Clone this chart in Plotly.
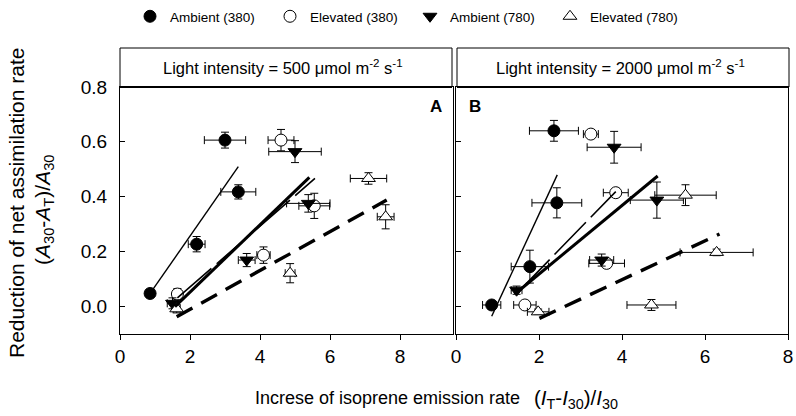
import plotly.graph_objects as go

W, H = 796, 416
FONT = "Arial, Liberation Sans, sans-serif"

# ---- Panel A: light intensity 500 umol m-2 s-1 ----
a_amb380_x = [0.86, 2.19, 3.38, 3.00]
a_amb380_y = [0.046, 0.226, 0.417, 0.606]
a_amb380_xerr = [0.10, 0.24, 0.50, 0.59]
a_amb380_yerr = [0.015, 0.028, 0.026, 0.029]

a_el380_x = [1.64, 4.10, 5.55, 4.60]
a_el380_y = [0.044, 0.186, 0.366, 0.606]
a_el380_xerr = [0.12, 0.19, 0.44, 0.37]
a_el380_yerr = [0.020, 0.030, 0.046, 0.039]

a_amb780_x = [1.50, 3.62, 5.38, 5.00]
a_amb780_y = [0.010, 0.168, 0.375, 0.564]
a_amb780_xerr = [0.15, 0.24, 0.62, 0.75]
a_amb780_yerr = [0.020, 0.024, 0.032, 0.040]

a_el780_x = [1.62, 4.86, 7.10, 7.59]
a_el780_y = [-0.010, 0.120, 0.466, 0.326]
a_el780_xerr = [0.10, 0.14, 0.52, 0.24]
a_el780_yerr = [0.015, 0.035, 0.021, 0.044]

# regression lines, panel A (end points)
a_fit_amb380_x = [0.86, 3.38]
a_fit_amb380_y = [0.046, 0.509]
a_fit_el380_x = [1.64, 5.57]
a_fit_el380_y = [0.030, 0.466]
a_fit_amb780_x = [1.57, 5.41]
a_fit_amb780_y = [-0.002, 0.470]
a_fit_el780_x = [1.62, 7.62]
a_fit_el780_y = [-0.039, 0.387]

# ---- Panel B: light intensity 2000 umol m-2 s-1 ----
b_amb380_x = [0.86, 1.78, 2.43, 2.36]
b_amb380_y = [0.004, 0.144, 0.377, 0.640]
b_amb380_xerr = [0.22, 0.45, 0.60, 0.59]
b_amb380_yerr = [0.010, 0.060, 0.055, 0.038]

b_el380_x = [1.66, 3.63, 3.85, 3.25]
b_el380_y = [0.004, 0.156, 0.414, 0.628]
b_el380_xerr = [0.27, 0.43, 0.30, 0.18]
b_el380_yerr = [0.010, 0.015, 0.015, 0.010]

b_amb780_x = [1.46, 3.51, 4.84, 3.81]
b_amb780_y = [0.058, 0.168, 0.387, 0.580]
b_amb780_xerr = [0.13, 0.29, 0.64, 0.65]
b_amb780_yerr = [0.015, 0.022, 0.066, 0.058]

b_el780_x = [1.98, 4.71, 6.28, 5.53]
b_el780_y = [-0.021, 0.004, 0.196, 0.405]
b_el780_xerr = [0.26, 0.59, 0.88, 0.74]
b_el780_yerr = [0.010, 0.020, 0.012, 0.038]

b_fit_amb380_x = [0.86, 2.44]
b_fit_amb380_y = [-0.037, 0.479]
b_fit_el380_x = [1.50, 3.85]
b_fit_el380_y = [0.052, 0.418]
b_fit_amb780_x = [1.42, 4.86]
b_fit_amb780_y = [0.044, 0.475]
b_fit_el780_x = [2.01, 6.35]
b_fit_el780_y = [-0.045, 0.263]

series_names = ["Ambient (380)", "Elevated (380)", "Ambient (780)", "Elevated (780)"]
x_ticks = [0, 2, 4, 6, 8]
y_ticks = [0.0, 0.2, 0.4, 0.6, 0.8]

# marker styles per series
styles = [
    dict(symbol="circle", color="black", line=dict(color="black", width=1), size=12),
    dict(symbol="circle", color="white", line=dict(color="black", width=1), size=12),
    dict(symbol="triangle-down", color="black", line=dict(color="black", width=1), size=12),
    dict(symbol="triangle-up", color="white", line=dict(color="black", width=1), size=12),
]
# regression line styles per series
fit_styles = [
    dict(color="black", width=1.4),
    dict(color="black", width=1.6, dash="45px,7px"),
    dict(color="black", width=3.0),
    dict(color="black", width=3.4, dash="18px,10px"),
]

panels = [
    dict(xa="x", ya="y",
         pts=[(a_amb380_x, a_amb380_y, a_amb380_xerr, a_amb380_yerr),
              (a_el380_x, a_el380_y, a_el380_xerr, a_el380_yerr),
              (a_amb780_x, a_amb780_y, a_amb780_xerr, a_amb780_yerr),
              (a_el780_x, a_el780_y, a_el780_xerr, a_el780_yerr)],
         fits=[(a_fit_amb380_x, a_fit_amb380_y), (a_fit_el380_x, a_fit_el380_y),
               (a_fit_amb780_x, a_fit_amb780_y), (a_fit_el780_x, a_fit_el780_y)]),
    dict(xa="x2", ya="y2",
         pts=[(b_amb380_x, b_amb380_y, b_amb380_xerr, b_amb380_yerr),
              (b_el380_x, b_el380_y, b_el380_xerr, b_el380_yerr),
              (b_amb780_x, b_amb780_y, b_amb780_xerr, b_amb780_yerr),
              (b_el780_x, b_el780_y, b_el780_xerr, b_el780_yerr)],
         fits=[(b_fit_amb380_x, b_fit_amb380_y), (b_fit_el380_x, b_fit_el380_y),
               (b_fit_amb780_x, b_fit_amb780_y), (b_fit_el780_x, b_fit_el780_y)]),
]

fig = go.Figure()
for pi, p in enumerate(panels):
    for i, (x, y, xe, ye) in enumerate(p["pts"]):
        fig.add_trace(go.Scatter(
            x=x, y=y, mode="markers", xaxis=p["xa"], yaxis=p["ya"],
            name=series_names[i], legendgroup=series_names[i], showlegend=(pi == 0),
            marker=styles[i],
            error_x=dict(type="data", array=xe, color="black", thickness=1, width=4),
            error_y=dict(type="data", array=ye, color="black", thickness=1, width=4),
        ))
    for i, (fx, fy) in enumerate(p["fits"]):
        fig.add_trace(go.Scatter(
            x=fx, y=fy, mode="lines", xaxis=p["xa"], yaxis=p["ya"],
            line=fit_styles[i], showlegend=False, legendgroup=series_names[i],
            hoverinfo="skip",
        ))


def px(v):
    return v / W


def py(v):
    return 1 - v / H


xA0, xA1 = 120, 453
xB0, xB1 = 456, 788
yTop, yBot = 87, 334

axis_common = dict(showline=True, linecolor="black", linewidth=1.3, mirror=True,
                   showgrid=False, zeroline=False, automargin=False,
                   tickfont=dict(family=FONT, size=19, color="black"))

fig.update_layout(
    template="none",
    width=W, height=H, margin=dict(l=0, r=0, t=0, b=0, pad=0, autoexpand=False),
    paper_bgcolor="white", plot_bgcolor="white",
    font=dict(family=FONT, color="black"),
    xaxis=dict(domain=[px(xA0), px(xA1)], range=[0, (xA1 - xA0) / 35.0],
               tickvals=x_ticks, ticks="outside", ticklen=5, tickcolor="black",
               anchor="y", **axis_common),
    yaxis=dict(domain=[py(yBot), py(yTop)], range=[-0.102, 0.8],
               tickvals=y_ticks, tickformat=".1f", ticks="inside", ticklen=5,
               tickcolor="black", anchor="x", ticklabelstandoff=8, **axis_common),
    xaxis2=dict(domain=[px(xB0), px(xB1)], range=[0, 8],
                tickvals=x_ticks, ticks="outside", ticklen=5, tickcolor="black",
                anchor="y2", **axis_common),
    yaxis2=dict(domain=[py(yBot), py(yTop)], range=[-0.102, 0.8],
                tickvals=y_ticks, showticklabels=False, ticks="inside", ticklen=5,
                tickcolor="black", anchor="x2", **axis_common),
    legend=dict(orientation="h", x=px(130), xanchor="left", y=py(1), yanchor="top",
                entrywidth=95, entrywidthmode="pixels",
                font=dict(family=FONT, size=13.5, color="black"),
                bgcolor="rgba(0,0,0,0)", itemclick=False, itemdoubleclick=False),
    showlegend=True,
)

# header strips above each panel
headers = [
    (xA0, 452, "Light intensity = 500 \u03bcmol m<sup>-2</sup> s<sup>-1</sup>"),
    (457, 789, "Light intensity = 2000 \u03bcmol m<sup>-2</sup> s<sup>-1</sup>"),
]
for x0, x1, txt in headers:
    fig.add_shape(type="rect", xref="paper", yref="paper",
                  x0=px(x0), x1=px(x1), y0=py(yTop), y1=py(48),
                  line=dict(color="black", width=1), fillcolor="white", layer="below")
    fig.add_shape(type="line", xref="paper", yref="paper",
                  x0=px(x0), x1=px(x1), y0=py(yTop), y1=py(yTop),
                  line=dict(color="black", width=2.2))
    fig.add_annotation(xref="paper", yref="paper", x=px((x0 + x1) / 2 - 3), y=py(67),
                       text=txt, showarrow=False, xanchor="center", yanchor="middle",
                       font=dict(family=FONT, size=16.5, color="black"))

# panel letters
fig.add_annotation(xref="paper", yref="paper", x=px(444), y=py(106), text="<b>A</b>",
                   showarrow=False, xanchor="right", yanchor="middle",
                   font=dict(family=FONT, size=17, color="black"))
fig.add_annotation(xref="paper", yref="paper", x=px(467), y=py(106), text="<b>B</b>",
                   showarrow=False, xanchor="left", yanchor="middle",
                   font=dict(family=FONT, size=17, color="black"))

# axis titles
fig.add_annotation(xref="paper", yref="paper", x=px(17), y=py(203),
                   text="Reduction of net assimilation rate", textangle=-90,
                   showarrow=False, xanchor="center", yanchor="middle",
                   font=dict(family=FONT, size=21, color="black"))
fig.add_annotation(xref="paper", yref="paper", x=px(44), y=py(210),
                   text="(<i>A</i><sub>30</sub>-<i>A</i><sub>T</sub>)/<i>A</i><sub>30</sub>",
                   textangle=-90, showarrow=False, xanchor="center", yanchor="middle",
                   font=dict(family=FONT, size=21, color="black"))
fig.add_annotation(xref="paper", yref="paper", x=px(387), y=py(398),
                   text="Increse of isoprene emission rate",
                   showarrow=False, xanchor="center", yanchor="middle",
                   font=dict(family=FONT, size=18, color="black"))
fig.add_annotation(xref="paper", yref="paper", x=px(532), y=py(399),
                   text="(<i>I</i><sub>T</sub>-<i>I</i><sub>30</sub>)/<i>I</i><sub>30</sub>",
                   showarrow=False, xanchor="left", yanchor="middle",
                   font=dict(family=FONT, size=20.5, color="black"))

fig.write_html(
    "out.html",
    post_script="document.body.style.margin='0';document.body.style.overflow='hidden';",
)
